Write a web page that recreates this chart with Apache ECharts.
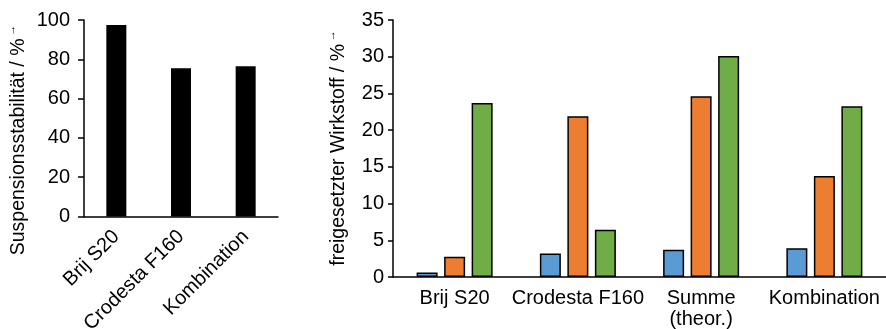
<!DOCTYPE html>
<html>
<head>
<meta charset="utf-8">
<script src="https://cdn.jsdelivr.net/npm/echarts@6/dist/echarts.min.js"></script>
<style>
html,body{margin:0;padding:0;background:#fff;}
#c{width:886px;height:329px;}
</style>
</head>
<body>
<div id="c"></div>
<script>
// ---- data ----
const leftCategories = ['Brij S20', 'Crodesta F160', 'Kombination'];
const leftValues = [97.5, 75.5, 76.4];
const leftTicks = { min: 0, max: 100, interval: 20 };

const rightCategories = ['Brij S20', 'Crodesta F160', 'Summe\n(theor.)', 'Kombination'];
const blueValues = [0.6, 3.2, 3.7, 3.9];
const orangeValues = [2.75, 21.9, 24.6, 13.75];
const greenValues = [23.7, 6.45, 30.1, 23.25];
const rightTicks = { min: 0, max: 35, interval: 5 };

const leftTitle = 'Suspensionsstabilität / %';
const rightTitle = 'freigesetzter Wirkstoff / %';

// ---- chart ----
const FONT = "'Liberation Sans', Arial, sans-serif";
const chart = echarts.init(document.getElementById('c'), null, { renderer: 'canvas' });

const axisLine = { show: true, lineStyle: { color: '#000', width: 1.5 } };
const border = { borderColor: '#000', borderWidth: 1.5 };

chart.setOption({
  animation: false,
  backgroundColor: '#fff',
  textStyle: { fontFamily: FONT },
  grid: [
    { left: 84, right: 608, top: 20, bottom: 112.5, containLabel: false, outerBoundsMode: 'none' },
    { left: 393, right: 0, top: 20, bottom: 52, containLabel: false, outerBoundsMode: 'none' }
  ],
  xAxis: [
    {
      gridIndex: 0, type: 'category', data: leftCategories,
      axisLine: axisLine, axisTick: { show: false },
      axisLabel: { rotate: 45, margin: 17, fontSize: 20, color: '#000', fontFamily: FONT, interval: 0 }
    },
    {
      gridIndex: 1, type: 'category', data: rightCategories,
      axisLine: axisLine, axisTick: { show: false },
      axisLabel: { margin: 11, fontSize: 20, lineHeight: 21, color: '#000', fontFamily: FONT, interval: 0 }
    }
  ],
  yAxis: [
    {
      gridIndex: 0, type: 'value', min: leftTicks.min, max: leftTicks.max, interval: leftTicks.interval,
      axisLine: axisLine, axisTick: { show: true, length: 6, lineStyle: { color: '#000', width: 1.5 } },
      splitLine: { show: false },
      axisLabel: { margin: 14, fontSize: 20, color: '#000', fontFamily: FONT }
    },
    {
      gridIndex: 1, type: 'value', min: rightTicks.min, max: rightTicks.max, interval: rightTicks.interval,
      axisLine: axisLine, axisTick: { show: true, length: 5, lineStyle: { color: '#000', width: 1.5 } },
      splitLine: { show: false },
      axisLabel: { margin: 9, fontSize: 20, color: '#000', fontFamily: FONT }
    }
  ],
  series: [
    {
      type: 'bar', xAxisIndex: 0, yAxisIndex: 0, data: leftValues,
      barWidth: 20, itemStyle: { color: '#000' }
    },
    {
      type: 'bar', xAxisIndex: 1, yAxisIndex: 1, data: blueValues,
      barWidth: 21, barGap: '31%', itemStyle: Object.assign({ color: '#5B9BD5' }, border)
    },
    {
      type: 'bar', xAxisIndex: 1, yAxisIndex: 1, data: orangeValues,
      barWidth: 21, barGap: '31%', itemStyle: Object.assign({ color: '#ED7D31' }, border)
    },
    {
      type: 'bar', xAxisIndex: 1, yAxisIndex: 1, data: greenValues,
      barWidth: 21, barGap: '31%', itemStyle: Object.assign({ color: '#70AD47' }, border)
    }
  ],
  graphic: [
    {
      type: 'text', x: 18.5, y: 140, rotation: Math.PI / 2,
      style: {
        text: '{n|' + leftTitle + '}{s| }{a|→}',
        align: 'center', verticalAlign: 'middle', fill: '#000',
        rich: {
          n: { fontSize: 19.5, fontFamily: FONT, fill: '#000', lineHeight: 24 },
          s: { fontSize: 10, fontFamily: FONT },
          a: { fontSize: 11, fontFamily: FONT, fill: '#000', verticalAlign: 'top', lineHeight: 12 }
        }
      }
    },
    {
      type: 'text', x: 338.5, y: 148, rotation: Math.PI / 2,
      style: {
        text: '{n|' + rightTitle + '}{s| }{a|→}',
        align: 'center', verticalAlign: 'middle', fill: '#000',
        rich: {
          n: { fontSize: 19.5, fontFamily: FONT, fill: '#000', lineHeight: 24 },
          s: { fontSize: 10, fontFamily: FONT },
          a: { fontSize: 11, fontFamily: FONT, fill: '#000', verticalAlign: 'top', lineHeight: 12 }
        }
      }
    }
  ]
});
</script>
</body>
</html>
